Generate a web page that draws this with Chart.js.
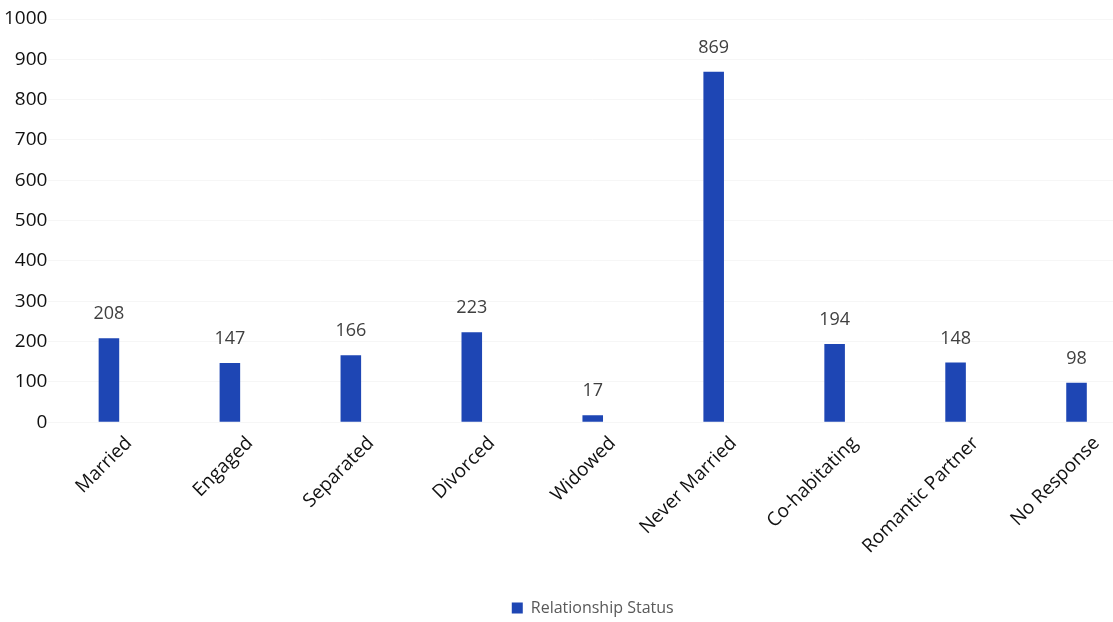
<!DOCTYPE html>
<html lang="en">
  <head>
    <meta charset="UTF-8">
    <title>Relationship Status</title>
    <script src="https://cdn.jsdelivr.net/npm/chart.js@4.4.0/dist/chart.umd.min.js"></script>
    <style>
      html, body { margin: 0; padding: 0; background: #fff; overflow: hidden; }
      #wrap { width: 1140px; height: 622px; }
    </style>
  </head>
  <body>
    <div id="wrap">
      <canvas id="chart" width="1140" height="622"></canvas>
    </div>
    <script>
      var categories = ['Married', 'Engaged', 'Separated', 'Divorced', 'Widowed',
        'Never Married', 'Co-habitating', 'Romantic Partner', 'No Response'];
      var counts = [208, 147, 166, 223, 17, 869, 194, 148, 98];
      var yTicks = [0, 100, 200, 300, 400, 500, 600, 700, 800, 900, 1000];

      // value labels above each bar
      var valueLabels = {
        id: 'valueLabels',
        afterDatasetsDraw: function(chart) {
          var ctx = chart.ctx;
          var meta = chart.getDatasetMeta(0);
          ctx.save();
          ctx.font = '18px "Open Sans", sans-serif';
          ctx.fillStyle = '#404040';
          ctx.textAlign = 'center';
          ctx.textBaseline = 'bottom';
          meta.data.forEach(function(bar, i) {
            ctx.fillText(chart.data.datasets[0].data[i], bar.x, bar.y - 15);
          });
          ctx.restore();
        }
      };

      new Chart(document.getElementById('chart'), {
        type: 'bar',
        data: {
          labels: categories,
          datasets: [{
            label: 'Relationship Status',
            data: counts,
            backgroundColor: '#1e46b4',
            borderWidth: 0,
            barPercentage: 0.17,
            categoryPercentage: 1
          }]
        },
        options: {
          responsive: false,
          animation: false,
          layout: { padding: { top: 19, left: 3, right: 3, bottom: -4 } },
          scales: {
            x: {
              grid: { display: false },
              border: { display: false },
              afterFit: function(scale) { scale.height += 40; },
              ticks: {
                color: '#111',
                font: { family: '"Open Sans", sans-serif', size: 19 },
                minRotation: 45,
                maxRotation: 45,
                labelOffset: 20,
                padding: 2
              }
            },
            y: {
              min: 0,
              max: 1000,
              afterBuildTicks: function(axis) {
                axis.ticks = yTicks.map(function(v) { return { value: v }; });
              },
              grid: { color: '#f6f6f6', drawTicks: false },
              border: { display: false },
              ticks: {
                color: '#111',
                font: { family: '"Open Sans", sans-serif', size: 19 },
                padding: 1,
                callback: function(v) { return String(v); }
              }
            }
          },
          plugins: {
            legend: {
              position: 'bottom',
              fullSize: false,
              labels: {
                boxWidth: 11,
                boxHeight: 11,
                padding: 0,
                color: '#595959',
                font: { family: '"Open Sans", sans-serif', size: 16 }
              }
            },
            tooltip: { enabled: false }
          }
        },
        plugins: [valueLabels]
      });
    </script>
  </body>
</html>
